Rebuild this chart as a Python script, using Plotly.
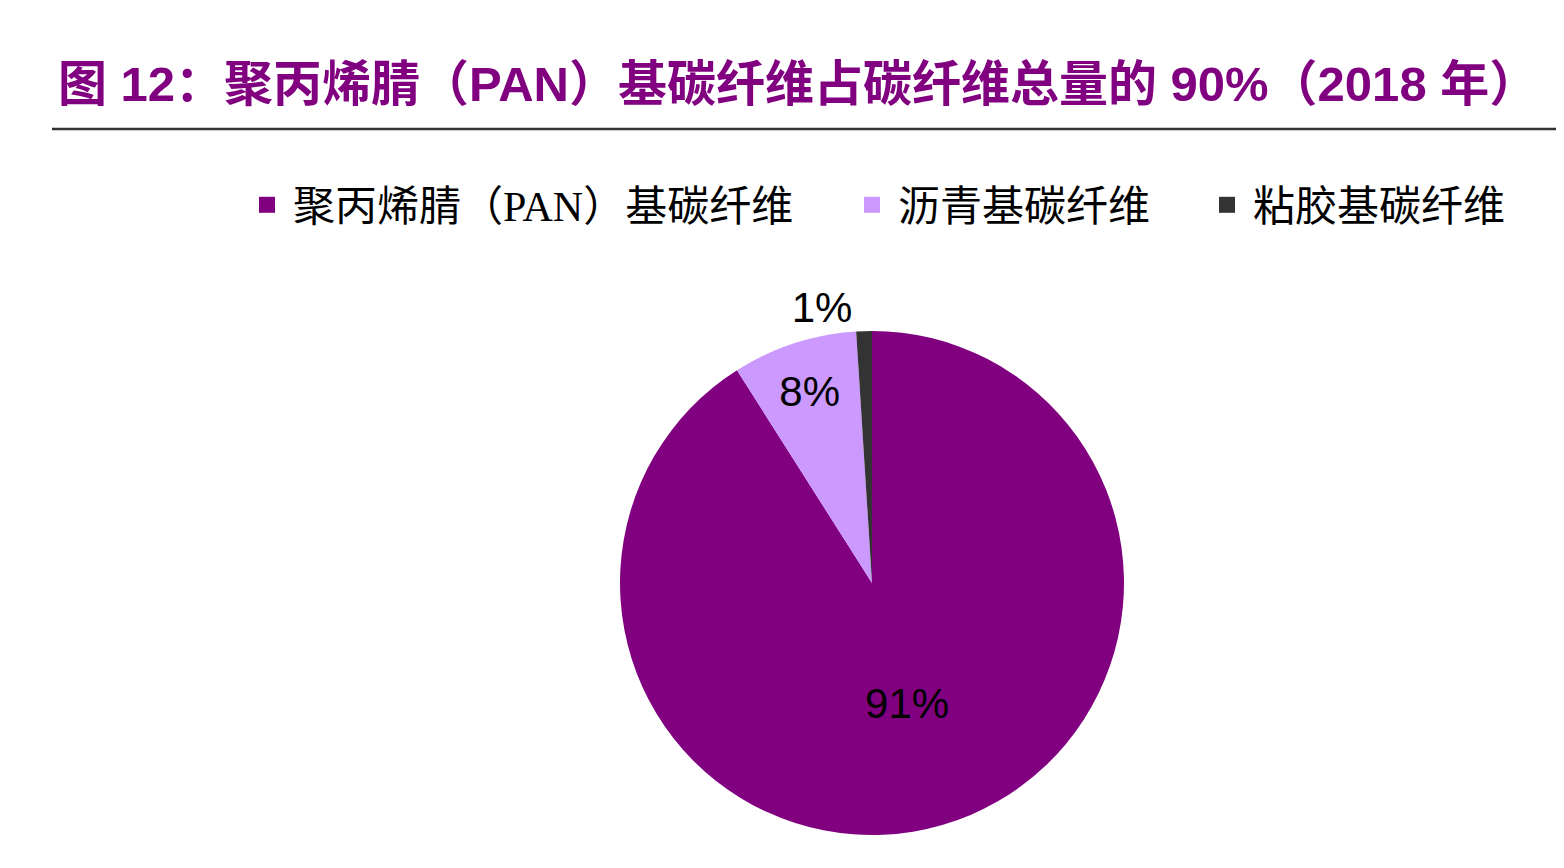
import plotly.graph_objects as go

# 2018年碳纤维按原料构成
labels = ["聚丙烯腈（PAN）基碳纤维", "沥青基碳纤维", "粘胶基碳纤维"]
values = [91, 8, 1]
colors = ["#800080", "#CC99FF", "#333333"]

title_text = "图 12：聚丙烯腈（PAN）基碳纤维占碳纤维总量的 90%（2018 年）"

W, H = 1564, 868
OFF = 8  # la page html ajoute 8px de marge autour du graphique
cx, cy, r = 872 - OFF, 583 - OFF, 252


def px_x(x):
    return (x - OFF) / W


def px_y(y):
    return 1 - (y - OFF) / H


fig = go.Figure(go.Pie(
    labels=labels,
    values=values,
    marker=dict(colors=colors, line=dict(width=0)),
    sort=False,
    direction="clockwise",
    rotation=0,
    texttemplate="%{percent:.0%}",
    textposition=["inside", "inside", "outside"],
    insidetextorientation="horizontal",
    textfont=dict(family="Liberation Sans, Arial", size=42, color="black"),
    hoverinfo="label+percent",
    showlegend=False,
    domain=dict(x=[(cx - r) / W, (cx + r) / W], y=[1 - (cy + r) / H, 1 - (cy - r) / H]),
))

# légende : une entrée par catégorie, chacune dans sa propre légende pour garder les écarts
text_starts = [293, 898, 1253]
legend_names = ["legend", "legend2", "legend3"]
for lab, col, name in zip(labels, colors, legend_names):
    fig.add_trace(go.Scatter(
        x=[None], y=[None], mode="markers", name=lab, legend=name,
        marker=dict(symbol="square", size=20, color=col),
        hoverinfo="skip", showlegend=True,
    ))

legend_font = dict(family="Liberation Serif, Noto Sans CJK SC", size=42, color="black")
legend_layout = {}
for name, xs in zip(legend_names, text_starts):
    legend_layout[name] = dict(
        orientation="h",
        x=px_x(xs - 52), xanchor="left",
        y=px_y(205), yanchor="middle",
        font=legend_font,
        itemwidth=42,
        bgcolor="rgba(0,0,0,0)",
    )

fig.update_layout(
    width=W, height=H,
    margin=dict(l=0, r=0, t=0, b=0),
    paper_bgcolor="white",
    plot_bgcolor="white",
    xaxis=dict(visible=False),
    yaxis=dict(visible=False),
    title=dict(
        text="<b>" + title_text + "</b>",
        font=dict(family="Liberation Sans, Noto Sans CJK SC", size=49, color="#800080"),
        x=px_x(58), xanchor="left", xref="paper",
        y=px_y(84), yanchor="middle", yref="paper",
    ),
    shapes=[dict(
        type="line", xref="paper", yref="paper",
        x0=px_x(52), x1=1, y0=px_y(129), y1=px_y(129),
        line=dict(color="#333333", width=2.5),
    )],
    **legend_layout,
)

fig.write_html("out.html")
